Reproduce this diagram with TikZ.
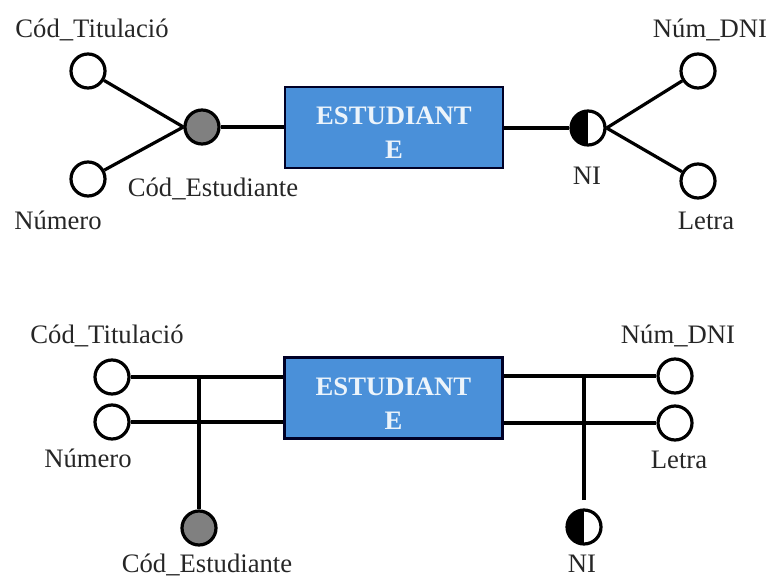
\documentclass[tikz,border=0pt]{standalone}
\usepackage{fontspec}
\setmainfont{Liberation Serif}
\definecolor{boxblue}{RGB}{74,144,217}
\definecolor{boxtext}{RGB}{236,244,251}
\definecolor{keygray}{RGB}{128,128,128}
\tikzset{
  attr/.style={circle,draw=black,line width=2.4pt,fill=white,minimum size=25.5pt,inner sep=0pt},
  keyattr/.style={attr,fill=keygray},
  altkey/.style={attr,path picture={\fill[black] (path picture bounding box.north) rectangle (path picture bounding box.south west);}},
  entity/.style={rectangle,draw=black!85!blue,line width=2pt,fill=boxblue,minimum width=163.5pt,minimum height=60.75pt,inner sep=0pt},
  etext/.style={align=center,text=boxtext,font=\bfseries\fontsize{20pt}{25.5pt}\selectfont,inner sep=0pt},
  lbl/.style={anchor=base,inner sep=0pt,text=black!85,font=\fontsize{20pt}{22pt}\selectfont},
  conn/.style={line width=2.4pt}
}
\begin{document}
\begin{tikzpicture}[x=0.75pt,y=-0.75pt]
\useasboundingbox (0,0) rectangle (774,577);
% ---------- top diagram ----------
\node[entity] (box1) at (394,127.5) {};
\node[etext] (box1t) at (394,133) {ESTUDIANT\\E};
\node[attr] (ct1) at (88,71) {};
\node[attr] (nu1) at (88,179) {};
\node[keyattr] (ce1) at (202,127) {};
\node[altkey] (ni1) at (588,128) {};
\node[attr] (nd1) at (698,71) {};
\node[attr] (le1) at (698,181) {};
\node[lbl] (lct1) at (92,38) {Cód\_Titulació};
\node[lbl] (lnu1) at (58,229) {Número};
\node[lbl] (lce1) at (213,197) {Cód\_Estudiante};
\node[lbl] (lni1) at (587,185) {NI};
\node[lbl] (lnd1) at (710,38) {Núm\_DNI};
\node[lbl] (lle1) at (706,229) {Letra};
\draw[conn] (ct1) -- (ce1.west);
\draw[conn] (nu1) -- (ce1.west);
\draw[conn] (ce1.east) -- (ce1.east -| box1.west);
\draw[conn] (box1.east |- ni1) -- (ni1.west);
\draw[conn] (ni1.east) -- (nd1);
\draw[conn] (ni1.east) -- (le1);
% ---------- bottom diagram ----------
\node[entity] (box2) at (393.5,398) {};
\node[etext] (box2t) at (393.5,403.5) {ESTUDIANT\\E};
\node[attr] (ct2) at (112,377) {};
\node[attr] (nu2) at (112,422) {};
\node[keyattr] (ce2) at (199,528) {};
\node[attr] (nd2) at (675,376) {};
\node[attr] (le2) at (675,423) {};
\node[altkey] (ni2) at (584,527) {};
\coordinate (niend) at (584,500);
\node[lbl] (lct2) at (107,343) {Cód\_Titulació};
\node[lbl] (lnu2) at (88,467) {Número};
\node[lbl] (lce2) at (207,572) {Cód\_Estudiante};
\node[lbl] (lnd2) at (678,343) {Núm\_DNI};
\node[lbl] (lle2) at (679,468) {Letra};
\node[lbl] (lni2) at (582,572) {NI};
\draw[conn] (ct2.east) -- (ct2.east -| box2.west);
\draw[conn] (nu2.east) -- (nu2.east -| box2.west);
\draw[conn] (ce2.north) -- (ce2.north |- ct2);
\draw[conn] (box2.east |- nd2) -- (nd2.west);
\draw[conn] (box2.east |- le2) -- (le2.west);
\draw[conn] (niend) -- (niend |- nd2);
\end{tikzpicture}
\end{document}
